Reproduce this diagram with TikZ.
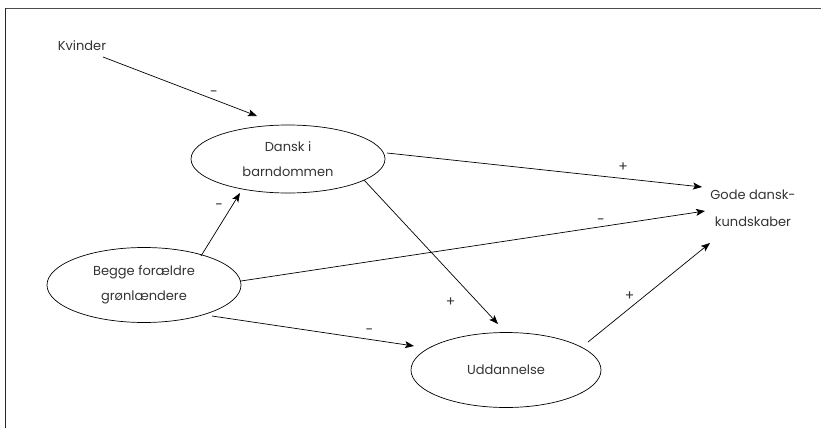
\documentclass[tikz,border=0pt]{standalone}
\usepackage{fontspec}
\setmainfont{Poppins}
\usetikzlibrary{shapes.geometric,arrows.meta,calc}
\definecolor{ink}{HTML}{333333}
\tikzset{
  ell/.style={draw, ellipse, line width=0.7pt, inner sep=0pt, align=center, text=ink, font=\fontsize{13}{25}\selectfont},
  txt/.style={inner sep=1pt, align=center, text=ink, font=\fontsize{13}{27}\selectfont},
  arr/.style={line width=0.7pt, -{Stealth[length=9pt,width=7pt,inset=2pt]}},
  sgn/.style={inner sep=0pt, text=ink, font=\fontsize{14}{14}\selectfont}
}
\begin{document}
\begin{tikzpicture}[x=1pt,y=-1pt]
\useasboundingbox (0,0) rectangle (821,431);
\draw[line width=1.2pt, black!70] (5,8.5) -- (821,8.5);
\draw[line width=1.2pt, black!85] (5.5,8) -- (5.5,428);

\node[txt] (kv) at (82,46) {Kvinder};
\node[ell, minimum width=194pt, minimum height=68pt] (dansk) at (288,159) {Dansk i\\barndommen};
\node[ell, minimum width=194pt, minimum height=75pt] (begge) at (144,285) {Begge forældre\\grønlændere};
\node[ell, minimum width=190pt, minimum height=75pt] (udd) at (506,370) {Uddannelse};
\node[txt] (gode) at (753,208) {Gode dansk-\\kundskaber};

\draw[arr] ($(kv)+(21,11)$) -- ($(dansk)+(-31,-43)$) node[sgn, pos=0.72, above=3pt] {-};
\draw[arr] ($(begge)+(57,-29)$) -- ($(dansk)+(-48,34)$) node[sgn, pos=0.78, left=8pt] {-};
\draw[arr] ($(dansk)+(99,-6)$) -- ($(gode)+(-51,-21)$) node[sgn, pos=0.75, above=7pt] {+};
\draw[arr] ($(begge)+(97,-4)$) -- ($(gode)+(-48,3)$) node[sgn, pos=0.776, above=2pt] {-};
\draw[arr] ($(dansk)+(76,21)$) -- ($(udd)+(-8,-46)$) node[sgn, pos=0.85, left=22pt] {+};
\draw[arr] ($(begge)+(68,31)$) -- ($(udd)+(-92,-24)$) node[sgn, pos=0.78, above=5pt] {-};
\draw[arr] ($(udd)+(82,-28)$) -- ($(gode)+(-43,35)$) node[sgn, pos=0.465, left=10pt] {+};
\end{tikzpicture}
\end{document}
